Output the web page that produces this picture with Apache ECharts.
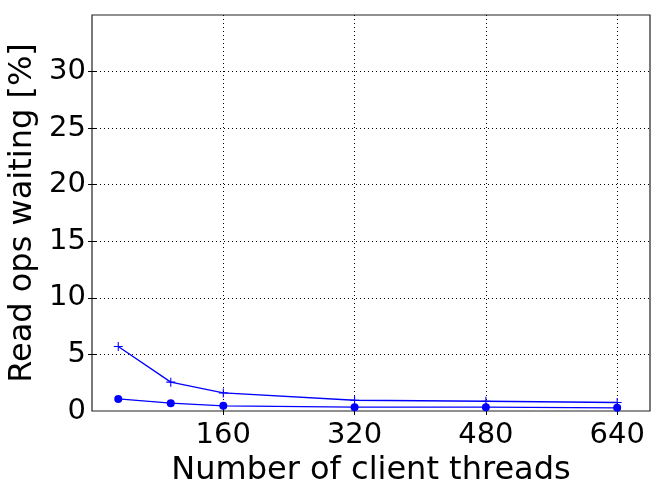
<!DOCTYPE html>
<html>
<head>
<meta charset="utf-8">
<script src="https://cdn.jsdelivr.net/npm/echarts@6/dist/echarts.min.js"></script>
<style>
  html, body { margin: 0; padding: 0; background: #fff; }
  #chart { width: 664px; height: 498px; }
</style>
</head>
<body>
<div id="chart"></div>
<script>
// client thread counts (x) and percentage of read ops waiting (y)
const threads = [32, 96, 160, 320, 480, 640]
const waitingPlus = [5.7, 2.55, 1.6, 0.95, 0.86, 0.75]
const waitingDot = [1.07, 0.69, 0.46, 0.34, 0.34, 0.28]
const xTicks = [160, 320, 480, 640]
const yTicks = [0, 5, 10, 15, 20, 25, 30]

const font = "DejaVu Sans"
const blue = "#0000ff"
const plusSymbol = "path://M4.4,0h1.2v10h-1.2zM0,4.4h10v1.2h-10z"

const pairs = ys => threads.map((x, i) => [x, ys[i]])

const gridLine = { show: true, lineStyle: { color: "#000", type: [1, 3], width: 1 } }
const tickX = { show: true, inside: true, length: 4, customValues: xTicks, lineStyle: { color: "#000" } }
const tickY = { show: true, inside: true, length: 4, customValues: yTicks.slice(1), lineStyle: { color: "#000" } }
const noLine = { show: false }
const labelStyle = { fontFamily: font, fontSize: 29, color: "#000" }
const nameStyle = { fontFamily: font, fontSize: 32, color: "#000" }

const chart = echarts.init(document.getElementById("chart"))
chart.setOption({
  animation: false,
  grid: {
    left: 92, right: 14, top: 15, bottom: 87,
    outerBoundsMode: "none",
    show: true,
    borderColor: "#222",
    borderWidth: 1.2,
    backgroundColor: "transparent",
  },
  xAxis: [
    {
      type: "value",
      min: 0,
      max: 680,
      interval: 160,
      name: "Number of client threads",
      nameLocation: "middle",
      nameGap: 42,
      nameTextStyle: nameStyle,
      axisLine: noLine,
      axisTick: tickX,
      splitLine: gridLine,
      axisLabel: { ...labelStyle, margin: 10, customValues: xTicks },
    },
    {
      type: "value",
      position: "top",
      min: 0,
      max: 680,
      interval: 160,
      axisLine: noLine,
      axisTick: tickX,
      splitLine: { show: false },
      axisLabel: { customValues: xTicks, formatter: () => "" },
    },
  ],
  yAxis: [
    {
      type: "value",
      min: 0,
      max: 35,
      interval: 5,
      name: "Read ops waiting [%]",
      nameLocation: "middle",
      nameGap: 36,
      nameTextStyle: nameStyle,
      axisLine: noLine,
      axisTick: tickY,
      splitLine: gridLine,
      axisLabel: { ...labelStyle, margin: 6, customValues: yTicks },
    },
    {
      type: "value",
      position: "right",
      min: 0,
      max: 35,
      interval: 5,
      axisLine: noLine,
      axisTick: tickY,
      splitLine: { show: false },
      axisLabel: { customValues: yTicks, formatter: () => "" },
    },
  ],
  series: [
    {
      type: "line",
      data: pairs(waitingPlus),
      symbol: plusSymbol,
      symbolSize: 9,
      lineStyle: { color: blue, width: 1.3 },
      itemStyle: { color: blue },
    },
    {
      type: "line",
      data: pairs(waitingDot),
      symbol: "circle",
      symbolSize: 8,
      lineStyle: { color: blue, width: 1.3 },
      itemStyle: { color: blue },
    },
  ],
})
</script>
</body>
</html>
